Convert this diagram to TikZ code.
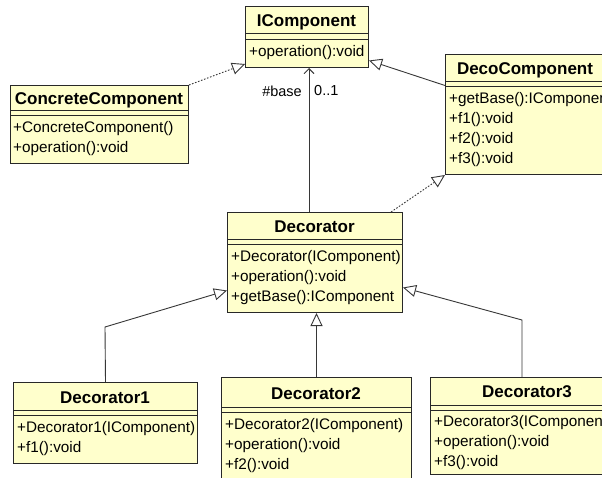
\documentclass[tikz,border=0pt]{standalone}
\usepackage{fontspec}
\setmainfont{Liberation Sans}
\usetikzlibrary{arrows.meta, positioning, calc}
\definecolor{classfill}{RGB}{255, 255, 204}
\definecolor{classline}{RGB}{40, 40, 40}
\definecolor{linkgray}{RGB}{55, 55, 55}

\begin{document}
\begin{tikzpicture}[x=1pt, y=-1pt,
  classbox/.style={draw=classline, fill=classfill, line width=1pt, inner sep=0pt, anchor=north west},
  classname/.style={font=\fontsize{17}{20}\selectfont\bfseries, text height=12pt, text depth=0pt, inner sep=0pt},
  member/.style={font=\fontsize{15.3}{20}\selectfont, anchor=west, inner sep=0pt, text height=11pt, text depth=3.2pt},
  classsep/.style={draw=classline, line width=0.8pt},
  inherit/.style={draw=linkgray, line width=0.9pt, -{Triangle[open, length=13pt, width=12pt]}},
  realize/.style={inherit, dash pattern=on 1.6pt off 1.6pt},
  assoc/.style={draw=linkgray, line width=0.9pt, -{Straight Barb[length=5pt, width=10pt]}},
  linklabel/.style={font=\fontsize{14.5}{17}\selectfont, inner sep=0pt}]
  \clip (0,0) rectangle (602,477);
  \fill[white] (0,0) rectangle (602,477);

  % IComponent
  \node[classbox, minimum width=123pt, minimum height=61pt] (icomp) at (245,6) {};
  \node[classname] (icomp-name) at (306.5,20.5) {IComponent};
  \draw[classsep] (245,33) -- (368,33) (245,39) -- (368,39);
  \node[member] (icomp-m1) at (249,53) {+operation():void};

  % ConcreteComponent
  \node[classbox, minimum width=178pt, minimum height=78pt] (cc) at (10,85) {};
  \node[classname] (cc-name) at (99,98.5) {ConcreteComponent};
  \draw[classsep] (10,110) -- (188,110) (10,115) -- (188,115);
  \node[member] (cc-m1) at (13,129) {+ConcreteComponent()};
  \node[member] (cc-m2) at (13,149) {+operation():void};

  % DecoComponent
  \node[classbox, minimum width=160pt, minimum height=120pt] (dc) at (445,54) {};
  \node[classname] (dc-name) at (525,68.5) {DecoComponent};
  \draw[classsep] (445,81) -- (605,81) (445,86) -- (605,86);
  \node[member] (dc-m1) at (449,100) {+getBase():IComponent};
  \node[member] (dc-m2) at (449,120) {+f1():void};
  \node[member] (dc-m3) at (449,140) {+f2():void};
  \node[member] (dc-m4) at (449,160) {+f3():void};

  % Decorator
  \node[classbox, minimum width=175pt, minimum height=100pt] (deco) at (227,212) {};
  \node[classname] (deco-name) at (314.5,226.5) {Decorator};
  \draw[classsep] (227,239) -- (402,239) (227,244) -- (402,244);
  \node[member] (deco-m1) at (231,258) {+Decorator(IComponent)};
  \node[member] (deco-m2) at (231,278) {+operation():void};
  \node[member] (deco-m3) at (231,298) {+getBase():IComponent};

  % Decorator1
  \node[classbox, minimum width=184pt, minimum height=81pt] (d1) at (13,382) {};
  \node[classname] (d1-name) at (105,397) {Decorator1};
  \draw[classsep] (13,410) -- (197,410) (13,415) -- (197,415);
  \node[member] (d1-m1) at (17,429) {+Decorator1(IComponent)};
  \node[member] (d1-m2) at (17,449) {+f1():void};

  % Decorator2
  \node[classbox, minimum width=190pt, minimum height=103pt] (d2) at (221,377) {};
  \node[classname] (d2-name) at (316,393) {Decorator2};
  \draw[classsep] (221,407) -- (411,407) (221,412) -- (411,412);
  \node[member] (d2-m1) at (225,426) {+Decorator2(IComponent)};
  \node[member] (d2-m2) at (225,446) {+operation():void};
  \node[member] (d2-m3) at (225,466) {+f2():void};

  % Decorator3
  \node[classbox, minimum width=194pt, minimum height=97pt] (d3) at (430,377) {};
  \node[classname] (d3-name) at (527,391.5) {Decorator3};
  \draw[classsep] (430,405) -- (624,405) (430,410) -- (624,410);
  \node[member] (d3-m1) at (434,423) {+Decorator3(IComponent)};
  \node[member] (d3-m2) at (434,443) {+operation():void};
  \node[member] (d3-m3) at (434,463) {+f3():void};

  % Connectors
  \coordinate (assocx) at (309,0);
  \coordinate (d1bend) at (105,327);
  \coordinate (d3bend) at (522,320);
  \draw[assoc] (deco.north -| assocx) -- (icomp.south -| assocx);
  \node[linklabel, anchor=east] (base-lbl) at (302,91) {\#base};
  \node[linklabel, anchor=west] (mult-lbl) at (314,91) {0..1};
  \draw[realize] (cc.north east) -- ([yshift=4pt]icomp.south west);
  \draw[inherit] ([yshift=29pt]dc.west) -- ([yshift=-23.5pt]icomp.east);
  \draw[realize] ([xshift=-12pt]deco.north east) -- (dc.south west);
  \draw[inherit] (d1.north) -- (d1bend) -- ([yshift=-28pt]deco.west);
  \draw[inherit] (d2.north) -- (d2.north |- deco.south);
  \draw[inherit] (d3.north -| d3bend) -- (d3bend) -- ([yshift=-25pt]deco.east);
\end{tikzpicture}
\end{document}
